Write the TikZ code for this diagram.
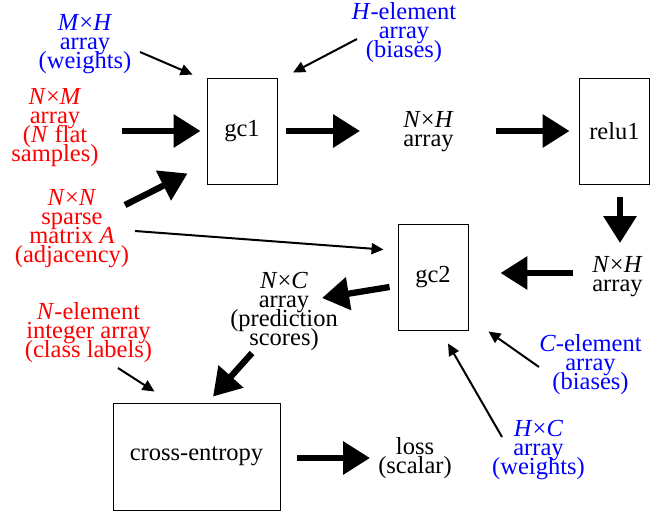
\documentclass[tikz,border=0pt]{standalone}
\usepackage{fontspec}
\setmainfont{LiberationSerif}[Extension=.ttf, UprightFont=*-Regular, ItalicFont=*-Italic, BoldFont=*-Bold, BoldItalicFont=*-BoldItalic]
\usetikzlibrary{arrows.meta}
\AtBeginDocument{\setlength{\lineskiplimit}{-20pt}}
\begin{document}
\begin{tikzpicture}[x=1pt,y=-1pt,
  every node/.style={font=\fontsize{24.5}{19}\selectfont},
  lbl/.style={align=center, inner sep=0pt},
  boxnode/.style={draw, line width=0.9pt, minimum width=70pt, minimum height=106pt, inner sep=0pt},
  big/.style={line width=6.3pt, -{Triangle[length=27pt,width=32pt]}},
  small/.style={line width=2pt, -{Triangle[length=12pt,width=11pt]}},
]
\useasboundingbox (0,0) rectangle (663,512);

% boxes
\node[boxnode] (gc1) at (242,131) {gc1};
\node[boxnode] (relu1) at (614.5,131) {relu1};
\node[boxnode] (gc2) at (433,277) {gc2};
\node[boxnode, minimum width=167pt, minimum height=107pt] (ce) at (196.5,456.5) {cross-entropy};

% labels
\node[lbl, text=blue] (w1) at (85,44) {\textit{M}×\textit{H}\\array\\(weights)};
\node[lbl, text=blue] (b1) at (404,33) {\textit{H}-element\\array\\(biases)};
\node[lbl, text=red] (x) at (55,128) {\textit{N}×\textit{M}\\array\\(\textit{N} flat\\samples)};
\node[lbl, text=red] (adj) at (72,229) {\textit{N}×\textit{N}\\sparse\\matrix \textit{A}\\(adjacency)};
\node[lbl] (h1) at (428.5,132) {\textit{N}×\textit{H}\\array};
\node[lbl] (h2) at (617.5,277) {\textit{N}×\textit{H}\\array};
\node[lbl] (sc) at (284,311) {\textit{N}×\textit{C}\\array\\(prediction\\scores)};
\node[lbl, text=red] (lab) at (88.5,333) {\textit{N}-element\\integer array\\(class labels)};
\node[lbl, text=blue] (b2) at (590.5,365) {\textit{C}-element\\array\\(biases)};
\node[lbl, text=blue] (w2) at (538.5,450) {\textit{H}×\textit{C}\\array\\(weights)};
\node[lbl] (loss) at (415,458) {loss\\(scalar)};

% free ends of connectors
\coordinate (xs) at (122,131);
\coordinate (adjs) at (125,205);
\coordinate (h1t) at (360,131);
\coordinate (h1s) at (496,131);
\coordinate (h2t) at (620,243);
\coordinate (h2s) at (573,273);
\coordinate (sct) at (322,298);
\coordinate (scs) at (252,353);
\coordinate (losst) at (370,458);
\coordinate (w1s) at (140,52);
\coordinate (b1s) at (357,39);
\coordinate (adjs2) at (135,231);
\coordinate (labs) at (118,368);
\coordinate (b2s) at (539,367);
\coordinate (w2s) at (502,437);

% thick arrows
\draw[big] (xs) -- ([xshift=-6pt]gc1.west);
\draw[big] (adjs) -- ([shift={(-19,-11)}]gc1.south west);
\draw[big] ([xshift=9pt]gc1.east) -- (h1t);
\draw[big] (h1s) -- ([xshift=-9.5pt]relu1.west);
\draw[big] ([shift={(5.5,13)}]relu1.south) -- (h2t);
\draw[big] (h2s) -- ([shift={(32,-4)}]gc2.east);
\draw[big] ([shift={(-8,10)}]gc2.west) -- (sct);
\draw[big] (scs) -- ([shift={(16.5,-6)}]ce.north);
\draw[big] ([shift={(17,1.5)}]ce.east) -- (losst);

% thin arrows
\draw[small] (w1s) -- ([shift={(-14,-3)}]gc1.north west);
\draw[small] (b1s) -- ([shift={(51,-5)}]gc1.north);
\draw[small] (adjs2) -- ([shift={(-14,26)}]gc2.north west);
\draw[small] (labs) -- ([shift={(42,-11)}]ce.north west);
\draw[small] (b2s) -- ([shift={(20,1)}]gc2.south east);
\draw[small] (w2s) -- ([shift={(15,13)}]gc2.south);
\end{tikzpicture}
\end{document}
